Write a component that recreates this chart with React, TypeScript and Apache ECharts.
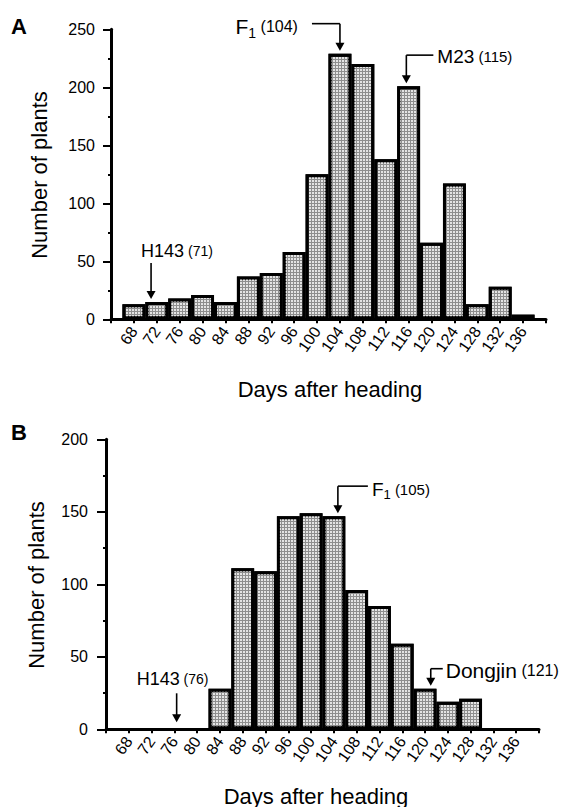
import React, { useEffect, useRef } from 'react';
import * as echarts from 'echarts';

// ---------- data ----------
const daysA = [68, 72, 76, 80, 84, 88, 92, 96, 100, 104, 108, 112, 116, 120, 124, 128, 132, 136];
const plantsA = [13, 15, 18, 21, 15, 37, 40, 58, 125, 229, 220, 138, 201, 66, 117, 13, 28, 4];

const daysB = [84, 88, 92, 96, 100, 104, 108, 112, 116, 120, 124, 128];
const plantsB = [28, 111, 109, 147, 149, 147, 96, 85, 59, 28, 19, 21];

const xTickLabels = [68, 72, 76, 80, 84, 88, 92, 96, 100, 104, 108, 112, 116, 120, 124, 128, 132, 136];
const yTicksA = [0, 50, 100, 150, 200, 250];
const yTicksB = [0, 50, 100, 150, 200];

// annotations: name, subscript, parenthetical, day the arrow points at, bar value below it
const annotationsA = [
  { name: 'F', sub: '1', paren: '(104)', day: 104, target: 229 },
  { name: 'M23', sub: '', paren: '(115)', day: 115.6, target: 201 },
  { name: 'H143', sub: '', paren: '(71)', day: 71, target: 15 },
];
const annotationsB = [
  { name: 'F', sub: '1', paren: '(105)', day: 104.7, target: 147 },
  { name: 'Dongjin', sub: '', paren: '(121)', day: 121, target: 28 },
  { name: 'H143', sub: '', paren: '(76)', day: 76.4, target: 0 },
];

// ---------- layout / style ----------
const FONT = "'Liberation Sans', Arial, Helvetica, sans-serif";
const layoutA = [
  { kind: 'elbow', tipGap: 3, shaft: 27, horiz: -28, gap: 14, dy: 3, fm: 21, fp: 16 },
  { kind: 'elbow', tipGap: 3, shaft: 28, horiz: 27, gap: 4, dy: 1, fm: 19, fp: 15 },
  { kind: 'straight', tipGap: 3, shaft: 36, dx: -10, dy: -12, fm: 18, fp: 14 },
];
const layoutB = [
  { kind: 'elbow', tipGap: 3, shaft: 27, horiz: 30, gap: 4, dy: 3, fm: 19, fp: 15 },
  { kind: 'elbow', tipGap: 3, shaft: 17, horiz: 12, gap: 3, dy: 2, fm: 21, fp: 16 },
  { kind: 'straight', tipGap: 7, shaft: 29, dx: -40, dy: -14, fm: 18, fp: 14 },
];

const barStyle = {
  color: '#8e8e8e',
  borderColor: '#000',
  borderWidth: 3,
  decal: {
    symbol: 'rect',
    symbolSize: 1,
    color: '#e4e4e4',
    dashArrayX: [2, 1],
    dashArrayY: [2, 1],
    rotation: 0,
  },
};

function xAxisCfg(gridIndex: number) {
  return {
    type: 'value',
    gridIndex,
    min: 64,
    max: 140,
    interval: 4,
    axisLine: { show: true, onZero: false, lineStyle: { color: '#000', width: 3 } },
    axisTick: { show: true, length: 4, lineStyle: { color: '#000', width: 2 } },
    axisLabel: {
      rotate: 55,
      margin: 9,
      fontSize: 16,
      fontFamily: FONT,
      color: '#000',
      formatter: (v: number) => (xTickLabels.indexOf(v) >= 0 ? String(v) : ''),
    },
    splitLine: { show: false },
  };
}

function yAxisCfg(gridIndex: number, ticks: number[], tickLen: number, margin: number) {
  return {
    type: 'value',
    gridIndex,
    min: ticks[0],
    max: ticks[ticks.length - 1],
    interval: ticks[1] - ticks[0],
    axisLine: { show: true, onZero: false, lineStyle: { color: '#000', width: 3 } },
    axisTick: { show: true, length: tickLen, lineStyle: { color: '#000', width: 2 } },
    minorTick: { show: true, splitNumber: 2, length: 3, lineStyle: { color: '#000', width: 2 } },
    axisLabel: { margin, fontSize: 16, fontFamily: FONT, color: '#000' },
    splitLine: { show: false },
    minorSplitLine: { show: false },
  };
}

const makeRich = (fm: number, fp: number) => ({
  m: { fontSize: fm, fontFamily: FONT, lineHeight: fm + 5, verticalAlign: 'middle', fill: '#000', color: '#000' },
  s: { fontSize: Math.round(fm * 0.68), fontFamily: FONT, lineHeight: fm + 5, verticalAlign: 'bottom', fill: '#000', color: '#000' },
  p: { fontSize: fp, fontFamily: FONT, lineHeight: fm + 5, verticalAlign: 'middle', fill: '#000', color: '#000' },
});

const App = () => {
  const ref = useRef<HTMLDivElement>(null);
  useEffect(() => {
    const chart = echarts.init(ref.current!, null, { renderer: 'svg' });
    chart.setOption({
      animation: false,
      backgroundColor: '#fff',
      grid: [
        { left: 111, top: 29.3, width: 435, height: 290 },
        { left: 106, top: 439.3, width: 433, height: 290 },
      ],
      xAxis: [xAxisCfg(0), xAxisCfg(1)],
      yAxis: [yAxisCfg(0, yTicksA, 8, 16), yAxisCfg(1, yTicksB, 9, 18)],
      series: [
        {
          type: 'bar',
          xAxisIndex: 0,
          yAxisIndex: 0,
          barWidth: '100%',
          data: daysA.map((d, i) => [d, plantsA[i]]),
          itemStyle: barStyle,
          emphasis: { disabled: true },
        },
        {
          type: 'bar',
          xAxisIndex: 1,
          yAxisIndex: 1,
          barWidth: '100%',
          data: daysB.map((d, i) => [d, plantsB[i]]),
          itemStyle: barStyle,
          emphasis: { disabled: true },
        },
      ],
    });

    const graphics: any[] = [];
    const lineStyle = { stroke: '#000', lineWidth: 1.6 };

    const addAnn = (grid: number, anns: any[], lays: any[]) => {
      anns.forEach((a, i) => {
        const L = lays[i];
        const rich = makeRich(L.fm, L.fp);
        const p = chart.convertToPixel({ gridIndex: grid } as any, [a.day, a.target]) as number[];
        const x = p[0];
        const tipY = p[1] - L.tipGap;
        const topY = tipY - L.shaft;
        graphics.push({ type: 'line', shape: { x1: x, y1: topY, x2: x, y2: tipY - 6 }, style: lineStyle, silent: true });
        graphics.push({
          type: 'polygon',
          shape: { points: [[x - 4.5, tipY - 8], [x + 4.5, tipY - 8], [x, tipY]] },
          style: { fill: '#000' },
          silent: true,
        });
        const txt = `{m|${a.name}}` + (a.sub ? `{s|${a.sub}}` : '') + `{p| ${a.paren}}`;
        if (L.kind === 'elbow') {
          const x2 = x + L.horiz;
          graphics.push({ type: 'line', shape: { x1: x, y1: topY, x2, y2: topY }, style: lineStyle, silent: true });
          const left = L.horiz < 0;
          graphics.push({
            type: 'text',
            x: left ? x2 - L.gap : x2 + L.gap,
            y: topY + L.dy,
            style: { text: txt, rich, align: left ? 'right' : 'left', verticalAlign: 'middle', fill: '#000' },
            silent: true,
          });
        } else {
          graphics.push({
            type: 'text',
            x: x + L.dx,
            y: topY + L.dy,
            style: { text: txt, rich, align: 'left', verticalAlign: 'middle', fill: '#000' },
            silent: true,
          });
        }
      });
    };
    addAnn(0, annotationsA, layoutA);
    addAnn(1, annotationsB, layoutB);

    const title = (text: string, x: number, y: number, rot = 0, size = 22, bold = false) => ({
      type: 'text',
      x,
      y,
      rotation: rot,
      style: {
        text,
        fontSize: size,
        fontFamily: FONT,
        fontWeight: bold ? 'bold' : 'normal',
        fill: '#000',
        align: 'center',
        verticalAlign: 'middle',
      },
      silent: true,
    });
    graphics.push(title('A', 19, 26, 0, 22, true));
    graphics.push(title('B', 19, 432, 0, 22, true));
    graphics.push(title('Number of plants', 39, 175, Math.PI / 2));
    graphics.push(title('Number of plants', 36, 585, Math.PI / 2));
    graphics.push(title('Days after heading', 330, 389));
    graphics.push(title('Days after heading', 316, 796));

    chart.setOption({ graphic: graphics });
    return () => chart.dispose();
  }, []);
  return (
    <div
      ref={ref}
      style={{ position: 'absolute', left: 0, top: 0, width: 572, height: 807, background: '#fff' }}
    />
  );
};

export default App;
